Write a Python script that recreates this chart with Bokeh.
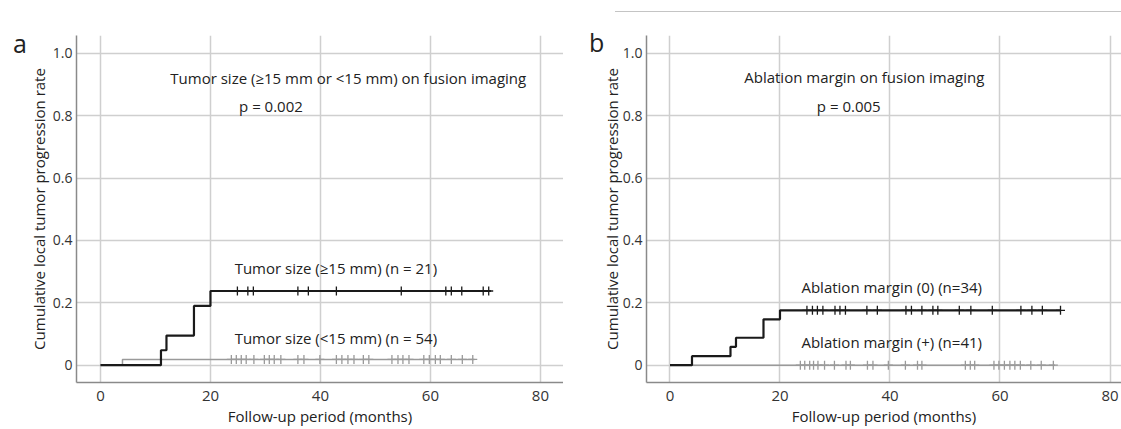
from bokeh.plotting import figure
from bokeh.layouts import row, column
from bokeh.models import Range1d, FixedTicker, CustomJSTickFormatter, Label, Div
from bokeh.embed import file_html
from bokeh.resources import INLINE

FONT = "Open Sans"

# ---------------- data ----------------
x_ticks = [0, 20, 40, 60, 80]
y_ticks = [0, 0.2, 0.4, 0.6, 0.8, 1.0]

# panel a : tumor size
a_ge15_time = [0, 11, 12, 17, 20, 71]
a_ge15_rate = [0, 0.048, 0.095, 0.190, 0.238, 0.238]
a_ge15_cens = [24.9, 26.8, 27.8, 35.9, 37.8, 42.9, 54.7, 62.8, 63.8, 65.7, 69.6, 70.6]
a_lt15_time = [0, 4, 68]
a_lt15_rate = [0, 0.0185, 0.0185]
a_lt15_cens = [23.8, 24.7, 25.6, 26.5, 27.9, 29.8, 30.7, 31.6, 32.8, 35.9, 37.0, 39.9,
               42.9, 43.9, 45.0, 46.1, 47.8, 48.8, 53.0, 54.1, 55.0, 56.1, 58.8, 59.8,
               60.9, 61.8, 63.8, 65.8, 67.7]

# panel b : ablation margin
b_m0_time = [0, 4, 11, 12, 17, 20, 71]
b_m0_rate = [0, 0.029, 0.059, 0.088, 0.147, 0.176, 0.176]
b_m0_cens = [24.9, 25.9, 26.8, 27.8, 30.0, 30.9, 31.9, 35.8, 37.7, 42.9, 43.9, 45.8,
             47.8, 48.7, 52.6, 54.7, 58.6, 63.8, 65.8, 67.7, 71.0]
b_mp_time = [0, 70]
b_mp_rate = [0, 0]
b_mp_cens = [23.7, 24.5, 25.4, 26.1, 26.9, 28.1, 29.9, 32.0, 32.8, 35.9, 36.9, 39.7,
             42.8, 45.0, 45.8, 53.7, 54.6, 55.4, 58.9, 59.8, 60.8, 61.8, 62.7, 63.7,
             65.6, 67.5, 69.7]

a_title = "Tumor size (\u226515 mm or <15 mm) on fusion imaging"
a_p = "p = 0.002"
a_lab1 = "Tumor size (\u226515 mm) (n = 21)"
a_lab2 = "Tumor size (<15 mm) (n = 54)"
b_title = "Ablation margin on fusion imaging"
b_p = "p = 0.005"
b_lab1 = "Ablation margin (0) (n=34)"
b_lab2 = "Ablation margin (+) (n=41)"

Y_LABEL = "Cumulative local tumor progression rate"
X_LABEL = "Follow-up period (months)"

BLACK = "#1a1a1a"
GRAY = "#9a9a9a"
TXT = "#222222"


def make_panel(width, height, xr, border_left, border_top, border_bottom, ylab_standoff):
    p = figure(width=width, height=height, x_range=Range1d(*xr),
               y_range=Range1d(-0.0554, 1.057), output_backend="svg",
               toolbar_location=None, min_border_left=border_left,
               min_border_right=0, min_border_top=border_top,
               min_border_bottom=border_bottom)
    p.outline_line_color = None
    p.background_fill_color = "white"
    p.border_fill_color = None
    p.xaxis.ticker = FixedTicker(ticks=x_ticks)
    p.yaxis.ticker = FixedTicker(ticks=y_ticks)
    p.yaxis.formatter = CustomJSTickFormatter(
        code="return Math.abs(tick) < 1e-9 ? '0' : tick.toFixed(1);")
    for ax in (p.xaxis[0], p.yaxis[0]):
        ax.axis_line_color = "#8a8a8a"
        ax.axis_line_width = 1.5
        ax.major_tick_out = 0
        ax.major_tick_in = 0
        ax.minor_tick_out = 0
        ax.minor_tick_in = 0
        ax.major_label_text_font = FONT
        ax.major_label_text_font_size = "15px"
        ax.major_label_text_color = "#333333"
        ax.axis_label_text_font = FONT
        ax.axis_label_text_font_size = "15px"
        ax.axis_label_text_font_style = "normal"
        ax.axis_label_text_color = TXT
    p.yaxis.major_label_text_font_size = "14px"
    p.xaxis.axis_label = X_LABEL
    p.yaxis.axis_label = Y_LABEL
    p.xaxis.major_label_standoff = 8
    p.xaxis.axis_label_standoff = 2
    p.yaxis.major_label_standoff = 4
    p.yaxis.axis_label_standoff = ylab_standoff
    p.grid.grid_line_color = "#cfcfcf"
    p.grid.grid_line_width = 1.5
    return p


def add_curve(p, t, r, cens, color, lw):
    p.step(t, r, mode="after", line_color=color, line_width=lw)
    p.scatter(cens, [r[-1]] * len(cens), marker="cross", size=9,
              line_color=color, line_width=1.3)


def add_text(p, txt, x, y, size="15px"):
    p.add_layout(Label(x=x, y=y, text=txt, text_font=FONT, text_font_size=size,
                       text_color=TXT, text_baseline="middle", text_align="left"))


def letter_div(letter, width, height, pad_top, pad_left):
    html = ('<div style="padding-top:%dpx;padding-left:%dpx;font-family:\'Open Sans\';'
            'font-size:25px;line-height:25px;color:#222;white-space:nowrap;'
            'overflow:visible;">%s</div>'
            % (pad_top, pad_left, letter))
    return Div(text=html, width=width, height=height, margin=0,
               styles={"overflow": "visible"})


# ---------------- panel a ----------------
pa = make_panel(540, 429, (-4.36, 84.2), 53, 35, 47, 1)
add_curve(pa, a_lt15_time, a_lt15_rate, a_lt15_cens, GRAY, 1.5)
add_curve(pa, a_ge15_time, a_ge15_rate, a_ge15_cens, BLACK, 2.2)
add_text(pa, a_title, 12.7, 0.922)
add_text(pa, a_p, 25.2, 0.832)
add_text(pa, a_lab1, 24.4, 0.311)
add_text(pa, a_lab2, 24.4, 0.0865)

# ---------------- panel b ----------------
pb = make_panel(523, 415, (-4.27, 82.09), 48, 21, 47, -2)
add_curve(pb, b_mp_time, b_mp_rate, b_mp_cens, GRAY, 1.5)
add_curve(pb, b_m0_time, b_m0_rate, b_m0_cens, BLACK, 2.2)
add_text(pb, b_title, 13.5, 0.923)
add_text(pb, b_p, 26.7, 0.832)
add_text(pb, b_lab1, 23.9, 0.252)
add_text(pb, b_lab2, 23.9, 0.0736)

div_a = letter_div("a", 23, 429, 31, 13)
div_b = letter_div("b", 35, 415, 16, 26)

top_rule = Div(text='<div style="margin-left:52px;width:506px;height:12px;'
                    'border-bottom:1px solid #c4c4c4"></div>',
               width=558, height=14, margin=0)

layout = row(div_a, pa, column(top_rule, row(div_b, pb, spacing=0), spacing=0), spacing=0)

open("out.html", "w").write(file_html(layout, INLINE))
